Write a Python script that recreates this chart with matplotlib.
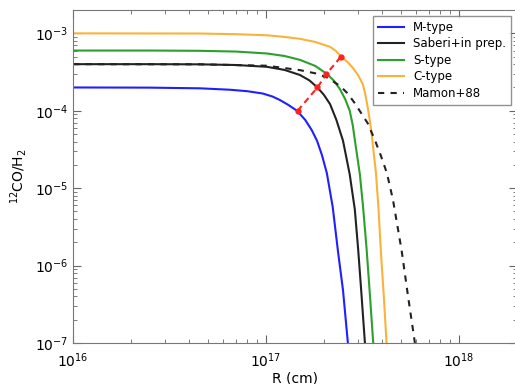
import matplotlib
matplotlib.use("Agg")
import matplotlib.pyplot as plt

# values (R in cm, 12CO/H2 abundance)
r_m = [1.0e16, 2.5e16, 4.55e16, 6.5e16, 8.0e16, 9.64e16, 1.08e17, 1.18e17,
       1.3e17, 1.45e17, 1.6e17, 1.73e17, 1.84e17, 1.95e17, 2.07e17, 2.22e17,
       2.36e17, 2.51e17, 2.66e17]
f_m = [2.0e-4, 1.99e-4, 1.95e-4, 1.87e-4, 1.79e-4, 1.67e-4, 1.53e-4, 1.38e-4,
       1.2e-4, 1.0e-4, 7.6e-5, 5.6e-5, 4.1e-5, 2.7e-5, 1.56e-5, 5.7e-6,
       1.58e-6, 4.8e-7, 1.0e-7]

r_sab = [1.0e16, 2.5e16, 4.55e16, 7.0e16, 1.01e17, 1.25e17, 1.5e17, 1.68e17,
         1.85e17, 2.0e17, 2.15e17, 2.32e17, 2.51e17, 2.62e17, 2.72e17,
         2.89e17, 3.01e17, 3.13e17, 3.26e17]
f_sab = [4.0e-4, 4.0e-4, 3.98e-4, 3.9e-4, 3.7e-4, 3.37e-4, 2.9e-4, 2.47e-4,
         2.0e-4, 1.6e-4, 1.22e-4, 7.6e-5, 4.1e-5, 2.4e-5, 1.5e-5,
         5.3e-6, 1.58e-6, 4.2e-7, 1.0e-7]

r_s = [1.0e16, 2.5e16, 4.55e16, 7.0e16, 1.01e17, 1.25e17, 1.5e17, 1.8e17,
       2.07e17, 2.25e17, 2.42e17, 2.58e17, 2.72e17, 2.82e17, 2.89e17, 2.98e17,
       3.07e17, 3.19e17, 3.33e17, 3.46e17, 3.6e17]
f_s = [6.0e-4, 6.0e-4, 5.95e-4, 5.82e-4, 5.5e-4, 5.1e-4, 4.55e-4, 3.8e-4,
       3.0e-4, 2.45e-4, 1.9e-4, 1.4e-4, 1.0e-4, 6.5e-5, 4.2e-5, 2.5e-5,
       1.5e-5, 5.7e-6, 1.58e-6, 4.2e-7, 1.0e-7]

r_c = [1.0e16, 4.55e16, 7.0e16, 1.01e17, 1.25e17, 1.5e17, 1.8e17, 2.15e17,
       2.3e17, 2.45e17, 2.64e17, 2.82e17, 3.0e17, 3.18e17, 3.28e17, 3.37e17,
       3.46e17, 3.54e17, 3.63e17, 3.72e17, 3.83e17, 3.94e17, 4.08e17, 4.22e17]
f_c = [1.0e-3, 9.95e-4, 9.75e-4, 9.45e-4, 9.0e-4, 8.5e-4, 7.75e-4, 6.7e-4,
       5.95e-4, 5.05e-4, 4.3e-4, 3.6e-4, 2.9e-4, 2.2e-4, 1.6e-4, 1.11e-4,
       7.4e-5, 4.8e-5, 2.7e-5, 1.56e-5, 5.7e-6, 1.58e-6, 4.2e-7, 1.0e-7]

r_mam = [1.0e16, 4.55e16, 1.01e17, 1.5e17, 1.8e17, 2.07e17, 2.42e17, 2.65e17,
         2.89e17, 3.12e17, 3.37e17, 3.67e17, 3.95e17, 4.24e17, 4.56e17,
         5.05e17, 5.44e17, 5.92e17]
f_mam = [4.0e-4, 3.98e-4, 3.82e-4, 3.35e-4, 3.05e-4, 2.7e-4, 2.1e-4, 1.68e-4,
         1.25e-4, 9.3e-5, 6.9e-5, 4.2e-5, 2.6e-5, 1.56e-5, 7.0e-6,
         1.58e-6, 4.2e-7, 1.0e-7]

# half-abundance radii (red markers)
r_half = [1.46e17, 1.85e17, 2.06e17, 2.45e17]
f_half = [1.0e-4, 2.0e-4, 3.0e-4, 5.0e-4]

fig = plt.figure(figsize=(5.15, 3.84), dpi=100)
ax = fig.add_axes([0.1417, 0.1068, 0.862, 0.867])

ax.plot(r_m, f_m, color="#1f1fff", lw=1.5, label="M-type")
ax.plot(r_sab, f_sab, color="#222222", lw=1.5, label="Saberi+in prep.")
ax.plot(r_s, f_s, color="#2ca02c", lw=1.5, label="S-type")
ax.plot(r_c, f_c, color="#fbb23c", lw=1.5, label="C-type")
ax.plot(r_mam, f_mam, color="#222222", lw=1.5, ls=(0, (3, 3)), label="Mamon+88")
ax.plot(r_half, f_half, color="#ff2020", lw=1.5, ls=(0, (3, 2)),
        marker="o", ms=3.5)

ax.set_xscale("log")
ax.set_yscale("log")
ax.set_xlim(1e16, 2.0e18)
ax.set_ylim(1e-7, 2.0e-3)

ax.tick_params(which="both", direction="in", top=True, right=True,
               color="#666666", labelsize=10)
ax.tick_params(which="major", length=6)
ax.tick_params(which="minor", length=3)
ax.tick_params(axis="x", which="major", pad=6)
for s in ax.spines.values():
    s.set_color("#777777")

ax.set_xlabel("R (cm)", fontsize=10, labelpad=1)
ax.set_ylabel("$^{12}$CO/H$_2$", fontsize=10, labelpad=4)

leg = ax.legend(loc="upper right", fontsize=8.5, fancybox=False,
                handlelength=2.2, borderaxespad=0.5, labelspacing=0.3)
leg.get_frame().set_edgecolor("#777777")
leg.get_frame().set_linewidth(1.0)

fig.savefig("out.png", dpi=100)
